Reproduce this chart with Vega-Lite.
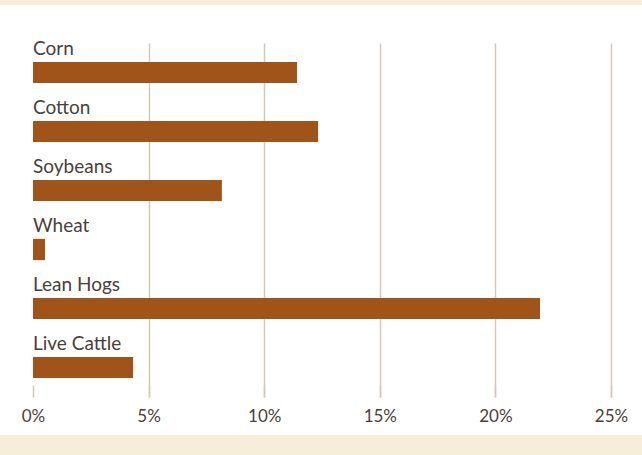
{
  "$schema": "https://vega.github.io/schema/vega-lite/v6.json",
  "width": 578,
  "height": 354,
  "autosize": {"type": "none"},
  "padding": {"left": 33, "top": 43, "right": 31, "bottom": 58},
  "background": "#f6eed9",
  "config": {
    "view": {"fill": "white", "stroke": "white", "strokeWidth": 76},
    "font": "Lato"
  },
  "data": {
    "values": [
      {"commodity": "Corn", "pct": 11.42},
      {"commodity": "Cotton", "pct": 12.33},
      {"commodity": "Soybeans", "pct": 8.17},
      {"commodity": "Wheat", "pct": 0.52},
      {"commodity": "Lean Hogs", "pct": 21.93},
      {"commodity": "Live Cattle", "pct": 4.33}
    ]
  },
  "encoding": {
    "y": {
      "field": "commodity",
      "type": "nominal",
      "sort": null,
      "scale": {"paddingInner": 0, "paddingOuter": 0},
      "axis": null
    }
  },
  "layer": [
    {
      "mark": {"type": "bar", "color": "#a0541a", "height": {"band": 0.36}},
      "encoding": {
        "x": {
          "field": "pct",
          "type": "quantitative",
          "scale": {"domain": [0, 25], "nice": false},
          "axis": {
            "values": [0, 5, 10, 15, 20, 25],
            "labelExpr": "datum.value + '%'",
            "title": null,
            "domain": false,
            "offset": -12,
            "tickSize": 12,
            "tickWidth": 1.5,
            "tickColor": "#d5c8bb",
            "grid": true,
            "gridColor": "#d5c8bb",
            "gridWidth": 1.5,
            "gridOpacity": {"condition": {"test": "datum.value === 0", "value": 0}, "value": 1},
            "labelFontSize": 17,
            "labelColor": "#4a3f3a",
            "labelPadding": 11,
            "labelFlush": false,
            "labelFont": "Lato"
          }
        }
      }
    },
    {
      "mark": {"type": "text", "align": "left", "baseline": "alphabetic", "dy": -18, "fontSize": 19, "color": "#4a3f3a"},
      "encoding": {
        "x": {"datum": 0, "type": "quantitative"},
        "text": {"field": "commodity"}
      }
    }
  ]
}
